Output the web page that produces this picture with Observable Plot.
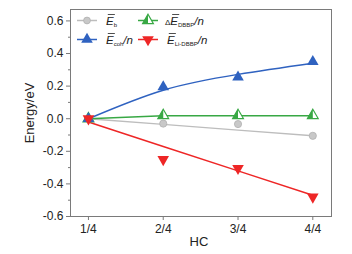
<!DOCTYPE html>
<html>
<head>
<meta charset="utf-8">
<script src="https://cdn.jsdelivr.net/npm/d3@7"></script>
<script src="https://cdn.jsdelivr.net/npm/@observablehq/plot@0.6"></script>
<style>
  html, body { margin: 0; padding: 0; background: #fff; }
  #chart { width: 352px; height: 254px; }
</style>
</head>
<body>
<div id="chart"></div>
<script>
// ---- data ----
const hc = [1, 2, 3, 4];
const hcLabels = ["1/4", "2/4", "3/4", "4/4"];
const eb = [0, -0.03, -0.033, -0.105];          // E_b (gray circles)
const ebFit = [0, -0.035, -0.07, -0.105];       // gray line
const dE = [0, 0.02, 0.02, 0.02];               // ΔE_DBBP/n (green half triangles)
const dEFit = [0, 0.018, 0.018, 0.018];         // green line
const ecoh = [0, 0.195, 0.255, 0.35];           // E_coh/n (blue triangles)
const ecohFit = [0, 0.175, 0.272, 0.34];        // blue curve
const eli = [0, -0.25, -0.305, -0.48];          // E_Li-DBBP/n (red down-triangles)
const eliFit = [-0.02, -0.17, -0.32, -0.47];    // red line
const yTicks = [-0.6, -0.4, -0.2, 0, 0.2, 0.4, 0.6];
const yMinor = [-0.5, -0.3, -0.1, 0.1, 0.3, 0.5];
const xTitle = "HC";
const yTitle = "Energy/eV";

const gray = "#bdbdbd", green = "#38a844", blue = "#2f62c0", red = "#ee2626";
const font = "'Liberation Sans', Arial, sans-serif";

const toRows = (arr) => hc.map((x, i) => ({x, y: arr[i]}));

const sqrt3 = Math.sqrt(3);
const triLeftHalf = {
  draw(ctx, size) {
    const y = -Math.sqrt(size / (sqrt3 * 3));
    ctx.moveTo(0, y * 2);
    ctx.lineTo(0, -y);
    ctx.lineTo(sqrt3 * y, -y);
    ctx.closePath();
  }
};

const plot = Plot.plot({
  width: 352,
  height: 254,
  marginLeft: 70,
  marginRight: 21,
  marginTop: 9,
  marginBottom: 38,
  style: {fontFamily: font, fontSize: "12px", color: "#222", background: "#fff"},
  x: {domain: [0.76, 4.25]},
  y: {domain: [-0.6, 0.67]},
  marks: [
    Plot.frame({stroke: "#7a7a7a"}),
    Plot.axisY({ticks: yTicks, tickSize: 4, tickPadding: 3, tickFormat: d => d.toFixed(1), label: null, stroke: "#7a7a7a"}),
    Plot.axisY({ticks: yMinor, tickSize: 2, tickFormat: () => "", label: null, stroke: "#7a7a7a"}),
    Plot.axisX({ticks: hc, tickSize: 4, tickPadding: 4, tickFormat: d => hcLabels[d - 1], label: null, stroke: "#7a7a7a"}),
    Plot.line(toRows(ebFit), {x: "x", y: "y", stroke: gray, strokeWidth: 1.4}),
    Plot.line(toRows(dEFit), {x: "x", y: "y", stroke: green, strokeWidth: 1.4}),
    Plot.line(toRows(ecohFit), {x: "x", y: "y", stroke: blue, strokeWidth: 1.5, curve: "natural"}),
    Plot.line(toRows(eliFit), {x: "x", y: "y", stroke: red, strokeWidth: 1.5}),
    Plot.dot(toRows(eb), {x: "x", y: "y", r: 3.6, fill: "#c8c8c8", stroke: "#b0b0b0", strokeWidth: 0.8}),
    Plot.dot(toRows(dE), {x: "x", y: "y", r: 4, symbol: "triangle", fill: "#fff", stroke: green, strokeWidth: 1.2}),
    Plot.dot(toRows(dE), {x: "x", y: "y", r: 4, symbol: triLeftHalf, fill: green, stroke: "none"}),
    Plot.dot(toRows(ecoh), {x: "x", y: "y", r: 4.3, symbol: "triangle", fill: blue, stroke: "none"}),
    Plot.dot(toRows(eli), {x: "x", y: "y", r: 4.3, symbol: "triangle", rotate: 180, fill: red, stroke: "none"})
  ]
});
document.getElementById("chart").appendChild(plot);

const svg = d3.select(plot);
// axis titles
svg.append("text").attr("x", 199).attr("y", 246).attr("text-anchor", "middle")
  .attr("font-family", font).attr("font-size", 13).attr("fill", "#222").text(xTitle);
svg.append("text").attr("transform", "translate(34,113) rotate(-90)").attr("text-anchor", "middle")
  .attr("font-family", font).attr("font-size", 13).attr("fill", "#222").text(yTitle);

// ---- legend (inside the plot area, top-left) ----
const legendItems = [
  {col: 0, row: 0, color: gray, kind: "circle", sub: "b", tail: ""},
  {col: 1, row: 0, color: green, kind: "half", sub: "DBBP", tail: "/n", delta: true},
  {col: 0, row: 1, color: blue, kind: "up", sub: "coh", tail: "/n"},
  {col: 1, row: 1, color: red, kind: "down", sub: "Li-DBBP", tail: "/n"}
];
const lg = svg.append("g").attr("font-family", font).attr("fill", "#222").attr("text-anchor", "start");
for (const it of legendItems) {
  const x0 = 77 + it.col * 61, y0 = 20.5 + it.row * 19;
  const g = lg.append("g").attr("transform", `translate(${x0},${y0})`);
  g.append("line").attr("x1", 0).attr("x2", 20).attr("y1", 0).attr("y2", 0)
    .attr("stroke", it.color).attr("stroke-width", 1.5);
  const mx = 10;
  if (it.kind === "circle") {
    g.append("circle").attr("cx", mx).attr("cy", 0).attr("r", 3.4)
      .attr("fill", "#c8c8c8").attr("stroke", "#b0b0b0").attr("stroke-width", 0.8);
  } else if (it.kind === "half") {
    g.append("path").attr("transform", `translate(${mx},0)`)
      .attr("d", d3.symbol(d3.symbolTriangle, Math.PI * 16)()).attr("fill", "#fff")
      .attr("stroke", it.color).attr("stroke-width", 1.2);
    g.append("path").attr("transform", `translate(${mx},0)`)
      .attr("d", d3.symbol(triLeftHalf, Math.PI * 16)()).attr("fill", it.color);
  } else {
    g.append("path").attr("transform", `translate(${mx},0) rotate(${it.kind === "down" ? 180 : 0})`)
      .attr("d", d3.symbol(d3.symbolTriangle, Math.PI * 18.5)()).attr("fill", it.color);
  }
  const fs = 11.5;
  const t = g.append("text").attr("x", it.delta ? 27 : 29).attr("y", 4).attr("font-size", fs)
    .attr("text-anchor", "start");
  if (it.delta) t.append("tspan").attr("font-size", 8).text("\u0394");
  t.append("tspan").attr("font-style", "italic").text("E");
  t.append("tspan").attr("font-size", 6).attr("dy", 2.5).text(it.sub);
  if (it.tail) t.append("tspan").attr("dy", -2.5).attr("font-style", "italic").text(it.tail);
  const ext = t.node().getExtentOfChar(it.delta ? 1 : 0);
  const oy = 4 - fs * 0.73 - 1.6;
  g.append("line").attr("x1", ext.x + 1.8).attr("x2", ext.x + ext.width + 1.2)
    .attr("y1", oy).attr("y2", oy).attr("stroke", "#222").attr("stroke-width", 0.8);
}
</script>
</body>
</html>
